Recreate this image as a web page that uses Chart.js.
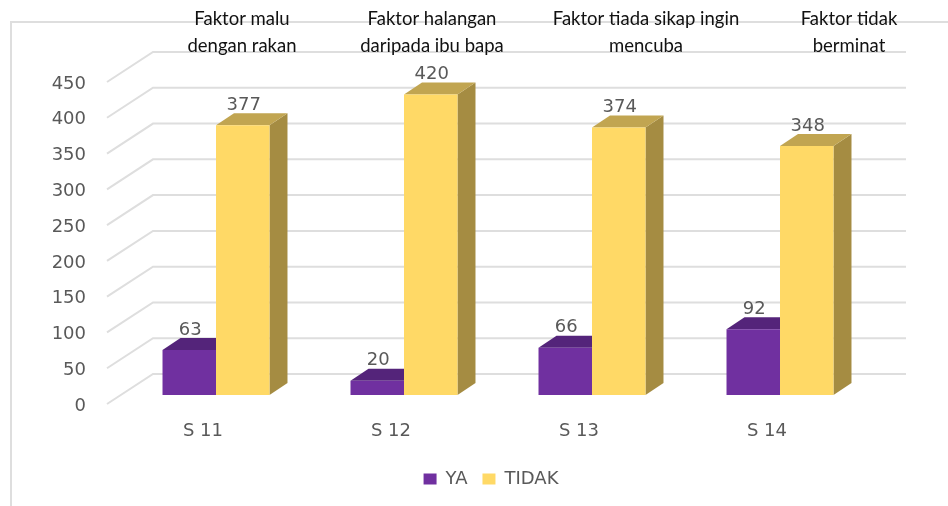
<!DOCTYPE html>
<html>
<head>
<meta charset="utf-8">
<style>html,body{margin:0;padding:0;background:#fff}canvas{display:block}</style>
<script src="https://cdn.jsdelivr.net/npm/chart.js@4"></script>
</head>
<body>
<canvas id="c" width="948" height="506"></canvas>
<script>
const categories = ["S 11", "S 12", "S 13", "S 14"];
const ya = [63, 20, 66, 92];
const tidak = [377, 420, 374, 348];
const notes = [
  ["Faktor malu", "dengan rakan"],
  ["Faktor halangan", "daripada ibu bapa"],
  ["Faktor tiada sikap ingin", "mencuba"],
  ["Faktor tidak", "berminat"]
];
const noteOffsets = [26, 28, 54, 69];

const DEPTH_X = 18, DEPTH_Y = 12;
const AXIS_FONT = '"DejaVu Sans"';
const GREY = "#595959";
const LINE = "#dedede";

const scene = {
  id: "scene",
  afterLayout(chart) {
    chart.legend.left += 37;
    chart.legend.right += 37;
  },
  beforeDraw(chart) {
    const ctx = chart.ctx;
    ctx.save();
    ctx.fillStyle = "#fff";
    ctx.fillRect(0, 0, chart.width, chart.height);
    ctx.strokeStyle = LINE;
    ctx.lineWidth = 2;
    ctx.beginPath();
    ctx.moveTo(11, 506);
    ctx.lineTo(11, 22);
    ctx.lineTo(948, 22);
    ctx.stroke();
    ctx.restore();
  },
  beforeDatasetsDraw(chart) {
    const ctx = chart.ctx, y = chart.scales.y;
    ctx.save();
    ctx.strokeStyle = LINE;
    ctx.lineWidth = 2;
    y.ticks.forEach((t, i) => {
      const py = y.getPixelForTick(i);
      ctx.beginPath();
      ctx.moveTo(107, py + 9);
      ctx.lineTo(153, py - 21);
      ctx.lineTo(906, py - 21);
      ctx.stroke();
    });
    const faces = [["#54247a", "#4b2070"], ["#c1a551", "#a58c42"]];
    chart.data.datasets.forEach((ds, di) => {
      chart.getDatasetMeta(di).data.forEach(bar => {
        const p = bar.getProps(["x", "y", "base", "width"], true);
        const l = p.x - p.width / 2, r = p.x + p.width / 2;
        ctx.fillStyle = faces[di][1];
        ctx.beginPath();
        ctx.moveTo(r, p.y);
        ctx.lineTo(r + DEPTH_X, p.y - DEPTH_Y);
        ctx.lineTo(r + DEPTH_X, p.base - DEPTH_Y);
        ctx.lineTo(r, p.base);
        ctx.closePath();
        ctx.fill();
        ctx.fillStyle = faces[di][0];
        ctx.beginPath();
        ctx.moveTo(l, p.y);
        ctx.lineTo(l + DEPTH_X, p.y - DEPTH_Y);
        ctx.lineTo(r + DEPTH_X, p.y - DEPTH_Y);
        ctx.lineTo(r, p.y);
        ctx.closePath();
        ctx.fill();
      });
    });
    ctx.restore();
  },
  afterDatasetsDraw(chart) {
    const ctx = chart.ctx;
    ctx.save();
    ctx.textAlign = "center";
    ctx.textBaseline = "middle";
    ctx.font = "18px " + AXIS_FONT;
    ctx.fillStyle = GREY;
    chart.data.datasets.forEach((ds, di) => {
      chart.getDatasetMeta(di).data.forEach((bar, i) => {
        ctx.fillText(String(ds.data[i]), bar.x + 1, bar.y - DEPTH_Y - 8);
      });
    });
    ctx.font = "18.5px Lato";
    ctx.fillStyle = "#111";
    const x = chart.scales.x;
    notes.forEach((lines, i) => {
      const cx = x.getPixelForValue(i) + noteOffsets[i];
      lines.forEach((line, k) => ctx.fillText(line, cx, 19 + k * 27));
    });
    ctx.restore();
  }
};

new Chart(document.getElementById("c"), {
  type: "bar",
  data: {
    labels: categories,
    datasets: [
      { label: "YA", data: ya, backgroundColor: "#7030a0" },
      { label: "TIDAK", data: tidak, backgroundColor: "#ffd966" }
    ]
  },
  plugins: [scene],
  options: {
    responsive: false,
    animation: false,
    events: [],
    layout: { padding: { left: 34, right: 74, top: 73, bottom: 8 } },
    datasets: { bar: { categoryPercentage: 0.569, barPercentage: 1 } },
    plugins: {
      tooltip: { enabled: false },
      legend: {
        position: "bottom",
        labels: {
          boxWidth: 13, boxHeight: 11, padding: 15,
          color: GREY,
          font: { family: AXIS_FONT, size: 18 }
        }
      }
    },
    scales: {
      x: {
        grid: { display: false, drawTicks: false },
        border: { display: false },
        afterFit(s) { s.height = 60; },
        ticks: {
          color: GREY, padding: 26, labelOffset: -13, maxRotation: 0,
          font: { family: AXIS_FONT, size: 18 }
        }
      },
      y: {
        min: 0, max: 450,
        grid: { display: false, drawTicks: false },
        border: { display: false },
        afterFit(s) { s.width = 88; },
        ticks: {
          stepSize: 50, color: GREY, padding: 36, labelOffset: 11,
          font: { family: AXIS_FONT, size: 18 }
        }
      }
    }
  }
});
</script>
</body>
</html>
